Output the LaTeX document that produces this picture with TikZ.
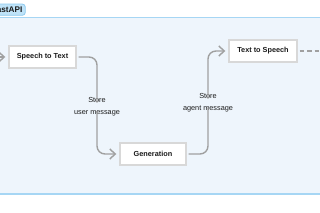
\documentclass[tikz,border=0pt]{standalone}
\usepackage{fontspec}
\setmainfont{Liberation Sans}
\usetikzlibrary{arrows.meta}
\definecolor{panelbg}{HTML}{EEF5FC}
\definecolor{panelline}{HTML}{A6D6F4}
\definecolor{tagfill}{HTML}{BFE3F8}
\definecolor{tagline}{HTML}{8FCAEE}
\definecolor{boxline}{HTML}{D8D8D8}
\definecolor{conn}{HTML}{A0A0A0}
\definecolor{txt}{HTML}{1A1A1A}
\tikzset{
  stepbox/.style={draw=boxline, line width=1.4pt, fill=white, minimum width=67pt, minimum height=22pt, inner sep=0pt, font=\bfseries\fontsize{7.3}{8}\selectfont, text=txt},
  link/.style={draw=conn, line width=1.4pt, rounded corners=8pt},
  arr/.style={link, -{Straight Barb[length=5.5pt, width=10pt, line width=1.4pt]}},
  lbl/.style={font=\fontsize{7.3}{11.7}\selectfont, text=txt, align=center, inner sep=0pt}
}
\begin{document}
\begin{tikzpicture}[x=1pt,y=-1pt]
\useasboundingbox (0,0) rectangle (320,213);
\clip (0,0) rectangle (320,213);
\fill[white] (0,0) rectangle (320,213);
\fill[panelbg] (-5,17.5) rectangle (325,194);
\draw[panelline, line width=1.1pt] (-5,17.5) -- (325,17.5);
\draw[panelline, line width=1.1pt] (-5,194) -- (325,194);
\node[draw=tagline, fill=tagfill, rounded corners=3pt, line width=0.8pt, minimum height=11.3pt, inner xsep=3pt, inner ysep=0pt, anchor=east, font=\bfseries\fontsize{8.2}{9}\selectfont, text=txt] (tag) at (25.7,9.7) {FastAPI};
\node[stepbox] (stt) at (42.5,57) {Speech to Text};
\node[stepbox, minimum width=66pt] (gen) at (153,154) {Generation};
\node[stepbox, minimum width=68pt] (tts) at (263,51) {Text to Speech};
\coordinate (in) at (-12,57);
\draw[arr, shorten >=3pt] (in) -- (stt.west);
\node[lbl] (l1) at (97,107) {Store\\user message};
\node[lbl] (l2) at (208,103) {Store\\agent message};
\draw[link, shorten <=2pt] (stt.east) -| ([yshift=-5pt]l1.north);
\draw[arr, shorten >=3pt] ([yshift=5pt]l1.south) |- (gen.west);
\draw[link, shorten <=2pt] (gen.east) -| ([yshift=5pt]l2.south);
\draw[arr, shorten >=3pt] ([yshift=-5pt]l2.north) |- (tts.west);
\coordinate (out) at (328,51);
\draw[conn, line width=1.4pt, dash pattern=on 4.5pt off 3pt, shorten <=2pt] (tts.east) -- (out);
\end{tikzpicture}
\end{document}
